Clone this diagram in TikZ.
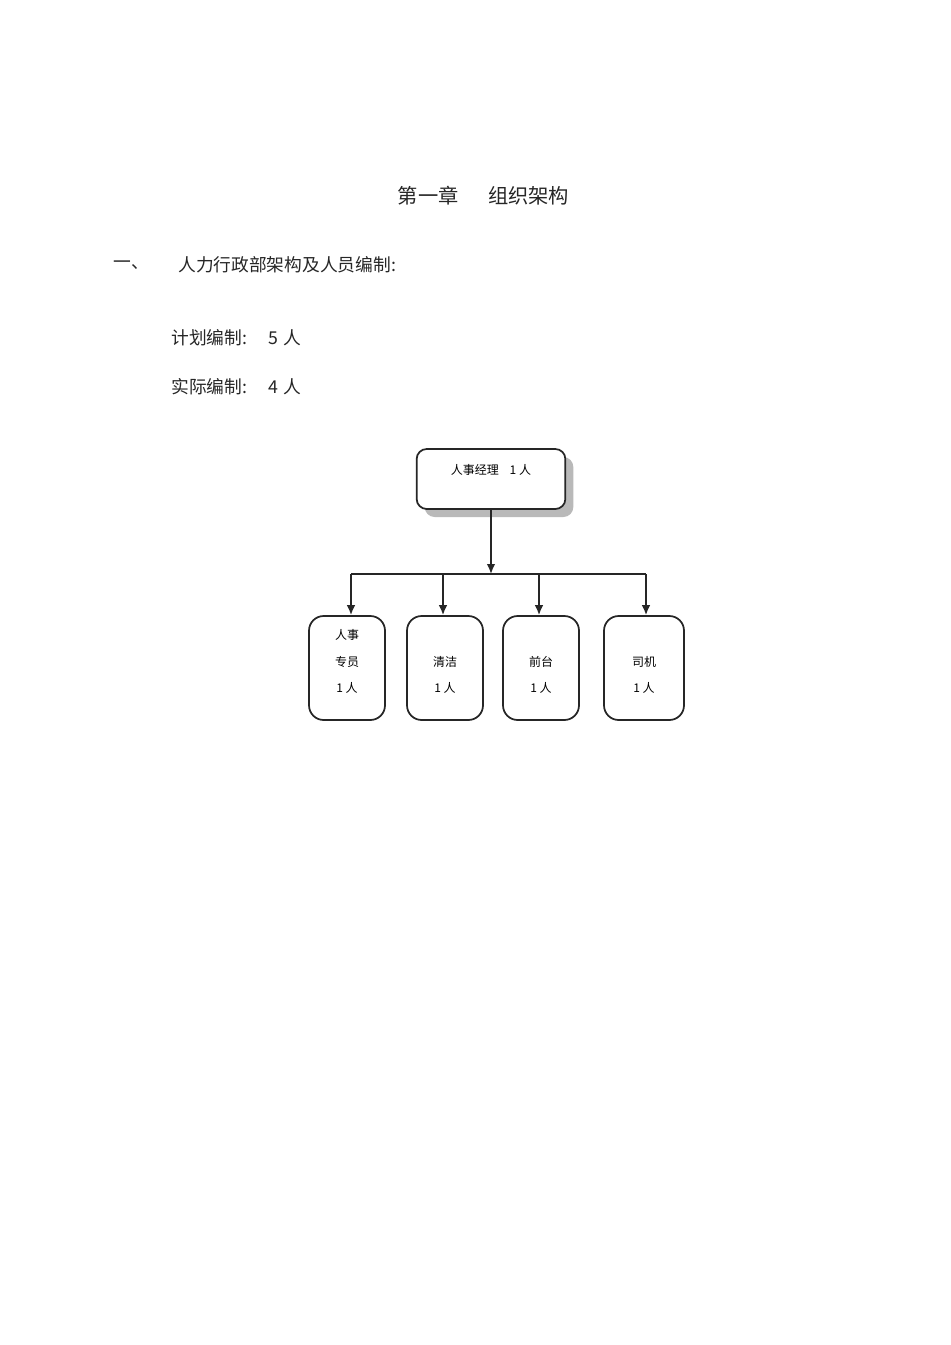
\documentclass[tikz,border=0pt]{standalone}
\usepackage{fontspec}
\setmainfont{Noto Sans CJK SC}
\usetikzlibrary{arrows.meta,shadows}
\newcommand\boxlines[3]{\raisebox{5.5pt}[\height][\depth]{\fontsize{9pt}{20pt}\selectfont\begin{tabular}{@{}c@{}}#1\\#2\\#3\end{tabular}}}
\tikzset{
  pagetext/.style={inner sep=0pt, anchor=west, font=\fontsize{13.3pt}{15pt}\selectfont, text=black!85},
  mgrbox/.style={draw=black!85, line width=1.3pt, rounded corners=7.5pt, fill=white,
    minimum width=111.5pt, minimum height=45pt, inner sep=0pt,
    drop shadow={shadow xshift=6pt, shadow yshift=-6pt, fill=gray!55, opacity=1},
    font=\fontsize{9pt}{11pt}\selectfont},
  staffbox/.style={draw=black!85, line width=1.3pt, rounded corners=11pt, fill=white,
    minimum width=57pt, minimum height=78pt, inner sep=0pt},
  arr/.style={draw=black!85, line width=1.3pt, -{Latex[length=7.5pt,width=6.5pt]}},
  link/.style={draw=black!85, line width=1.3pt}
}
\begin{document}
\begin{tikzpicture}[x=0.75pt,y=-0.75pt]
\fill[white] (0,0) rectangle (950,1345);
\useasboundingbox (0,0) rectangle (950,1345);
% headings
\node[inner sep=0pt, font=\fontsize{15.2pt}{17pt}\selectfont, text=black!85] (title) at (483.5,196) {第一章\hspace{22pt}组织架构};
\node[pagetext] (sec) at (113,265) {一、};
\node[pagetext] (sectext) at (178,265) {人力行政部架构及人员编制:};
\node[pagetext] (plan) at (171,338) {计划编制:\hspace{16pt}5\hspace{4pt}人};
\node[pagetext] (actual) at (171,387) {实际编制:\hspace{16pt}4\hspace{4pt}人};
% chart
\node[mgrbox] (mgr) at (491,479) {\raisebox{7pt}[\height][\depth]{人事经理\hspace{8pt}1 人}};
\node[staffbox] (b1) at (347,668) {\boxlines{人事}{专员}{1 人}};
\node[staffbox] (b2) at (445,668) {\boxlines{}{清洁}{1 人}};
\node[staffbox] (b3) at (541,668) {\boxlines{}{前台}{1 人}};
\node[staffbox, minimum width=60pt] (b4) at (644,668) {\boxlines{}{司机}{1 人}};
\coordinate (hub) at (491,574);
\coordinate (j1) at (351,574);
\coordinate (j2) at (443,574);
\coordinate (j3) at (539,574);
\coordinate (j4) at (646,574);
\draw[arr] (mgr.south) -- (hub);
\draw[link] (j1) -- (j4);
\draw[arr] (j1) -- (j1 |- b1.north);
\draw[arr] (j2) -- (j2 |- b2.north);
\draw[arr] (j3) -- (j3 |- b3.north);
\draw[arr] (j4) -- (j4 |- b4.north);
\end{tikzpicture}
\end{document}
